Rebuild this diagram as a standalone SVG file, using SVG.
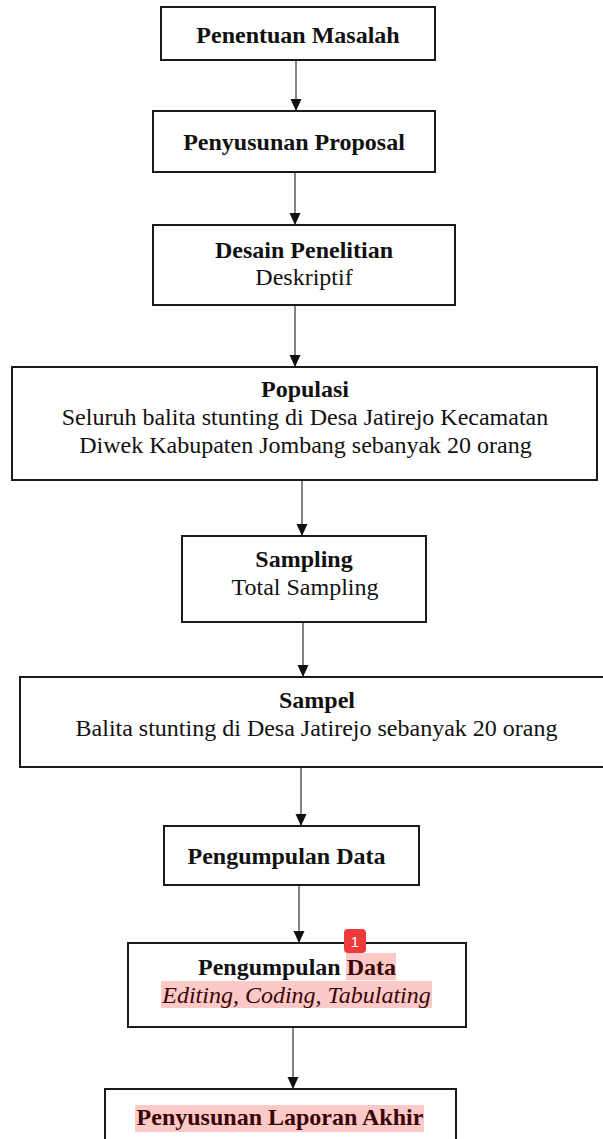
<svg xmlns="http://www.w3.org/2000/svg" width="603" height="1139" viewBox="0 0 603 1139">
<style>
.box{fill:#fff;stroke:#1a1a1a;stroke-width:2}
.t{font-family:"Liberation Serif","Times New Roman",serif;font-size:24px;fill:#111;text-anchor:middle}
.b{font-weight:bold}
.i{font-style:italic}
.hl{fill:#fcc9c9}
.ht{fill:#3a0505}
.conn line{stroke:#333;stroke-width:1.2}
</style>
<defs>
<marker id="ah" markerWidth="12" markerHeight="13" refX="12" refY="6" orient="auto" markerUnits="userSpaceOnUse" viewBox="0 0 13 12">
<path d="M0,0 L13,6 L0,12 Z" fill="#111"/>
</marker>
</defs>
<rect width="603" height="1139" fill="#fff"/>
<g id="connectors" class="conn">
<line x1="296" y1="60" x2="296" y2="110" marker-end="url(#ah)"/>
<line x1="295" y1="172" x2="295" y2="224" marker-end="url(#ah)"/>
<line x1="295" y1="305" x2="295" y2="366" marker-end="url(#ah)"/>
<line x1="302" y1="480" x2="302" y2="535" marker-end="url(#ah)"/>
<line x1="303" y1="622" x2="303" y2="676" marker-end="url(#ah)"/>
<line x1="301" y1="767" x2="301" y2="825" marker-end="url(#ah)"/>
<line x1="299" y1="885" x2="299" y2="942" marker-end="url(#ah)"/>
<line x1="293" y1="1027" x2="293" y2="1088" marker-end="url(#ah)"/>
</g>
<g id="n1">
<rect class="box" x="161" y="7" width="274" height="53"/>
<text class="t b" x="298" y="43">Penentuan Masalah</text>
</g>
<g id="n2">
<rect class="box" x="153" y="111" width="282" height="61"/>
<text class="t b" x="294" y="150">Penyusunan Proposal</text>
</g>
<g id="n3">
<rect class="box" x="153" y="225" width="302" height="80"/>
<text class="t b" x="304" y="258">Desain Penelitian</text>
<text class="t" x="304" y="285">Deskriptif</text>
</g>
<g id="n4">
<rect class="box" x="12" y="367" width="585" height="113"/>
<text class="t b" x="305" y="397">Populasi</text>
<text class="t" x="305" y="425">Seluruh balita stunting di Desa Jatirejo Kecamatan</text>
<text class="t" x="305.5" y="453">Diwek Kabupaten Jombang sebanyak 20 orang</text>
</g>
<g id="n5">
<rect class="box" x="182" y="536" width="244" height="86"/>
<text class="t b" x="304" y="567">Sampling</text>
<text class="t" x="305" y="595">Total Sampling</text>
</g>
<g id="n6">
<rect class="box" x="20" y="677" width="600" height="90"/>
<text class="t b" x="317" y="708">Sampel</text>
<text class="t" x="316.5" y="736">Balita stunting di Desa Jatirejo sebanyak 20 orang</text>
</g>
<g id="n7">
<rect class="box" x="164" y="826" width="255" height="59"/>
<text class="t b" x="286.5" y="864">Pengumpulan Data</text>
</g>
<g id="n8">
<rect class="box" x="128" y="943" width="338" height="84"/>
<rect class="hl" x="346" y="953" width="50" height="27"/>
<rect class="hl" x="161" y="981" width="271" height="27"/>
<text class="t b" x="297" y="975">Pengumpulan <tspan class="ht">Data</tspan></text>
<text class="t i ht" x="296.5" y="1003">Editing, Coding, Tabulating</text>
<rect x="344" y="929" width="22" height="24" rx="4" fill="#f03a3a"/>
<text x="355" y="947" font-family="Liberation Sans, Arial, sans-serif" font-size="15" fill="#fff" text-anchor="middle">1</text>
</g>
<g id="n9">
<rect class="box" x="105" y="1089" width="351" height="70"/>
<rect class="hl" x="135" y="1105" width="289" height="27"/>
<text class="t b ht" x="280" y="1125">Penyusunan Laporan Akhir</text>
</g>
</svg>
